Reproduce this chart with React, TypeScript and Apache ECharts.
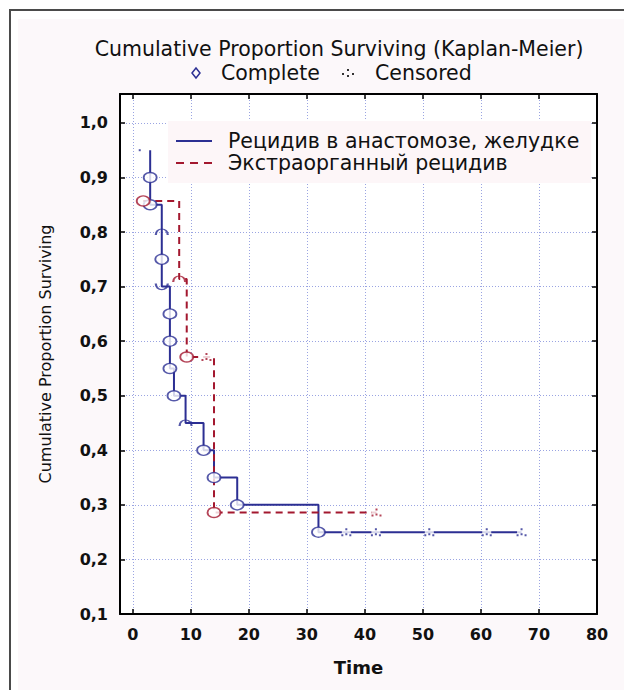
import React, { useEffect, useRef } from "react";
import * as echarts from "echarts";

const TITLE = "Cumulative Proportion Surviving (Kaplan-Meier)";
const X_NAME = "Time";
const Y_NAME = "Cumulative Proportion Surviving";
const SERIES_A = "Рецидив в анастомозе, желудке";
const SERIES_B = "Экстраорганный рецидив";
const LEGEND_COMPLETE = "Complete";
const LEGEND_CENSORED = "Censored";

const xTicks = [0, 10, 20, 30, 40, 50, 60, 70, 80];
const yTicks = [0.1, 0.2, 0.3, 0.4, 0.5, 0.6, 0.7, 0.8, 0.9, 1.0];

// Series A: Рецидив в анастомозе, желудке
const aFirstTime = 1.2;
const aFirstSurv = 0.95;
const aStartTime = 3;
const aStartSurv = 0.95;
const aTimes = [3, 3, 5, 5, 5, 6.4, 6.4, 6.4, 7.1, 9.1, 12.2, 14, 18, 32];
const aSurv = [0.9, 0.85, 0.8, 0.75, 0.7, 0.65, 0.6, 0.55, 0.5, 0.45, 0.4, 0.35, 0.3, 0.25];
const aMarks = ["o", "o", "top", "o", "bottom", "o", "o", "o", "o", "top", "o", "o", "o", "o"];
const aCensorTimes = [36.8, 41.9, 51.1, 61, 67];
const aCensorSurv = [0.25, 0.25, 0.25, 0.25, 0.25];

// Series B: Экстраорганный рецидив
const bStartTime = 1.8;
const bStartSurv = 0.857;
const bTimes = [8, 9.3, 14];
const bSurv = [0.714, 0.571, 0.286];
const bMarks = ["top", "o", "o"];
const bCensorTimes = [12.7, 42];
const bCensorSurv = [0.571, 0.286];

const BLUE = "#2c2f93";
const RED = "#a3182f";
const FONT = "DejaVu Sans";

function stepLine(t0: number, s0: number, times: number[], surv: number[], endT: number) {
  const pts: number[][] = [[t0, s0]];
  let prev = s0;
  for (let i = 0; i < times.length; i++) {
    pts.push([times[i], prev]);
    pts.push([times[i], surv[i]]);
    prev = surv[i];
  }
  const last = pts[pts.length - 1];
  if (endT > last[0]) pts.push([endT, prev]);
  return pts;
}

function pick(times: number[], surv: number[], marks: string[], kind: string) {
  const out: number[][] = [];
  for (let i = 0; i < times.length; i++) if (marks[i] === kind) out.push([times[i], surv[i]]);
  return out;
}

function zip(a: number[], b: number[]) {
  return a.map((v, i) => [v, b[i]]);
}

const CENSOR_PATH = "path://M4,0h2v2h-2z M4,5h2v2h-2z M0,6h2v2h-2z M8,6h2v2h-2z";
const TOP_ARC = "path://M0,7 C0,-2 12,-2 12,7";
const BOTTOM_ARC = "path://M0,0 C0,9 12,9 12,0";

export default function App() {
  const ref = useRef<HTMLDivElement>(null);
  useEffect(() => {
    document.body.style.margin = "0";
    const chart = echarts.init(ref.current!, null, { renderer: "svg" });
    const aLine = stepLine(aStartTime, aStartSurv, aTimes, aSurv, Math.max(...aCensorTimes));
    const bLine = stepLine(bStartTime, bStartSurv, bTimes, bSurv, Math.max(...bCensorTimes));
    const aCirc = pick(aTimes, aSurv, aMarks, "o");
    const aTop = pick(aTimes, aSurv, aMarks, "top");
    const aBot = pick(aTimes, aSurv, aMarks, "bottom");
    const bCirc = [[bStartTime, bStartSurv], ...pick(bTimes, bSurv, bMarks, "o")];
    const bTop = pick(bTimes, bSurv, bMarks, "top");
    const aCens = zip(aCensorTimes, aCensorSurv);
    const bCens = zip(bCensorTimes, bCensorSurv);

    const fmtY = (v: number) => v.toFixed(1).replace(".", ",");
    const gridColor = "#9aa4e2";

    const option: any = {
      animation: false,
      backgroundColor: "#ffffff",
      textStyle: { fontFamily: FONT },
      title: {
        text: TITLE,
        left: 334,
        textAlign: "center",
        top: 33,
        textStyle: { fontFamily: FONT, fontSize: 20.5, fontWeight: "normal", color: "#111" },
      },
      grid: { left: 120, top: 94, width: 477, height: 520, show: true, backgroundColor: "#ffffff", borderWidth: 0 },
      legend: {
        orient: "vertical",
        left: 168,
        top: 121,
        itemWidth: 36,
        itemHeight: 2,
        itemGap: 0,
        padding: [9, 12, 9, 8],
        backgroundColor: "#fdf6f8",
        selectedMode: false,
        itemStyle: { borderWidth: 0 },
        textStyle: { fontFamily: FONT, fontSize: 20.5, color: "#111", lineHeight: 22, padding: [0, 0, 0, 11] },
        data: [
          { name: SERIES_A, icon: "path://M0,0H36V2H0Z" },
          { name: SERIES_B, icon: "path://M0,0H8V2H0Z M14,0H22V2H14Z M28,0H36V2H28Z" },
        ],
      },
      xAxis: [
        {
          type: "value",
          min: -2.2,
          max: 80,
          position: "bottom",
          name: X_NAME,
          nameLocation: "middle",
          nameGap: 44,
          nameTextStyle: { fontFamily: FONT, fontSize: 18, fontWeight: "bold", color: "#111" },
          axisLine: { show: true, onZero: false, lineStyle: { color: "#000", width: 2 } },
          axisTick: { show: true, inside: true, length: 5, customValues: xTicks, lineStyle: { color: "#000", width: 1.5 } },
          axisLabel: { customValues: xTicks, margin: 12, fontFamily: FONT, fontSize: 16, fontWeight: "bold", color: "#111" },
          splitLine: { show: true, lineStyle: { color: gridColor, type: [1, 2], width: 1 } },
        },
        {
          type: "value",
          min: -2.2,
          max: 80,
          position: "top",
          axisLine: { show: true, onZero: false, lineStyle: { color: "#000", width: 2 } },
          axisTick: { show: true, inside: true, length: 5, customValues: xTicks, lineStyle: { color: "#000", width: 1.5 } },
          axisLabel: { show: false },
          splitLine: { show: false },
        },
      ],
      yAxis: [
        {
          type: "value",
          min: 0.1,
          max: 1.053,
          position: "left",
          name: Y_NAME,
          nameLocation: "middle",
          nameGap: 67,
          nameTextStyle: { fontFamily: FONT, fontSize: 16, color: "#111" },
          axisLine: { show: true, onZero: false, lineStyle: { color: "#000", width: 2 } },
          axisTick: { show: true, inside: true, length: 5, customValues: yTicks, lineStyle: { color: "#000", width: 1.5 } },
          axisLabel: { customValues: yTicks, margin: 12, formatter: fmtY, fontFamily: FONT, fontSize: 16, fontWeight: "bold", color: "#111" },
          splitLine: { show: true, lineStyle: { color: gridColor, type: [1, 2], width: 1 } },
        },
        {
          type: "value",
          min: 0.1,
          max: 1.053,
          position: "right",
          axisLine: { show: true, onZero: false, lineStyle: { color: "#000", width: 2 } },
          axisTick: { show: true, inside: true, length: 5, customValues: yTicks, lineStyle: { color: "#000", width: 1.5 } },
          axisLabel: { show: false },
          splitLine: { show: false },
        },
      ],
      graphic: [
        { type: "rect", silent: true, z: -10, shape: { x: 18, y: 19, width: 606, height: 671 }, style: { fill: "#fcf8fa" } },
        { type: "line", silent: true, shape: { x1: 9, y1: 10, x2: 624, y2: 10 }, style: { stroke: "#4a4a4a", lineWidth: 2 } },
        { type: "line", silent: true, shape: { x1: 10, y1: 9, x2: 10, y2: 690 }, style: { stroke: "#4a4a4a", lineWidth: 2 } },
        { type: "polygon", silent: true, shape: { points: [[196, 68], [200, 73], [196, 78], [192, 73]] }, style: { fill: "none", stroke: BLUE, lineWidth: 1.5 } },
        { type: "text", silent: true, x: 221, y: 73, style: { text: LEGEND_COMPLETE, font: `20.5px '${FONT}'`, fill: "#111", verticalAlign: "middle" } },
        { type: "rect", silent: true, shape: { x: 342, y: 73, width: 2, height: 2 }, style: { fill: "#333" } },
        { type: "rect", silent: true, shape: { x: 347, y: 69, width: 2, height: 2 }, style: { fill: "#333" } },
        { type: "rect", silent: true, shape: { x: 347, y: 75, width: 2, height: 2 }, style: { fill: "#333" } },
        { type: "rect", silent: true, shape: { x: 352, y: 73, width: 2, height: 2 }, style: { fill: "#333" } },
        { type: "text", silent: true, x: 375, y: 73, style: { text: LEGEND_CENSORED, font: `20.5px '${FONT}'`, fill: "#111", verticalAlign: "middle" } },
      ],
      series: [
        {
          name: SERIES_A,
          type: "line",
          data: aLine,
          showSymbol: false,
          symbol: "none",
          color: BLUE,
          itemStyle: { color: BLUE },
          lineStyle: { color: BLUE, width: 2 },
          z: 3,
        },
        {
          name: SERIES_B,
          type: "line",
          data: bLine,
          showSymbol: false,
          symbol: "none",
          color: RED,
          itemStyle: { color: RED },
          lineStyle: { color: RED, width: 2, type: [7, 5] },
          z: 3,
        },
        {
          type: "scatter",
          data: [...aCens, ...bCens],
          symbol: "rect",
          symbolSize: [9, 8],
          itemStyle: { color: "#ffffff" },
          z: 4,
        },
        {
          type: "scatter",
          data: aCens,
          symbol: CENSOR_PATH,
          symbolSize: [10, 8],
          itemStyle: { color: BLUE },
          z: 5,
        },
        {
          type: "scatter",
          data: bCens,
          symbol: CENSOR_PATH,
          symbolSize: [10, 8],
          itemStyle: { color: RED },
          z: 5,
        },
        {
          type: "scatter",
          data: [[aFirstTime, aFirstSurv]],
          symbol: "rect",
          symbolSize: [2, 2],
          itemStyle: { color: BLUE },
          z: 5,
        },
        {
          type: "scatter",
          data: aCirc,
          symbol: "circle",
          symbolSize: [13, 10],
          itemStyle: { color: "#ffffff", borderColor: BLUE, borderWidth: 1.6 },
          z: 5,
        },
        {
          type: "scatter",
          data: bCirc,
          symbol: "circle",
          symbolSize: [13, 10],
          itemStyle: { color: "#ffffff", borderColor: RED, borderWidth: 1.6 },
          z: 5,
        },
        {
          type: "scatter",
          data: aTop,
          symbol: TOP_ARC,
          symbolSize: [12, 6],
          itemStyle: { color: "rgba(0,0,0,0)", borderColor: BLUE, borderWidth: 1.6 },
          z: 5,
        },
        {
          type: "scatter",
          data: aBot,
          symbol: BOTTOM_ARC,
          symbolSize: [12, 6],
          itemStyle: { color: "rgba(0,0,0,0)", borderColor: BLUE, borderWidth: 1.6 },
          z: 5,
        },
        {
          type: "scatter",
          data: bTop,
          symbol: TOP_ARC,
          symbolSize: [12, 6],
          itemStyle: { color: "rgba(0,0,0,0)", borderColor: RED, borderWidth: 1.6 },
          z: 5,
        },
      ],
    };
    chart.setOption(option);
    return () => chart.dispose();
  }, []);
  return <div ref={ref} style={{ width: 624, height: 690 }} />;
}
